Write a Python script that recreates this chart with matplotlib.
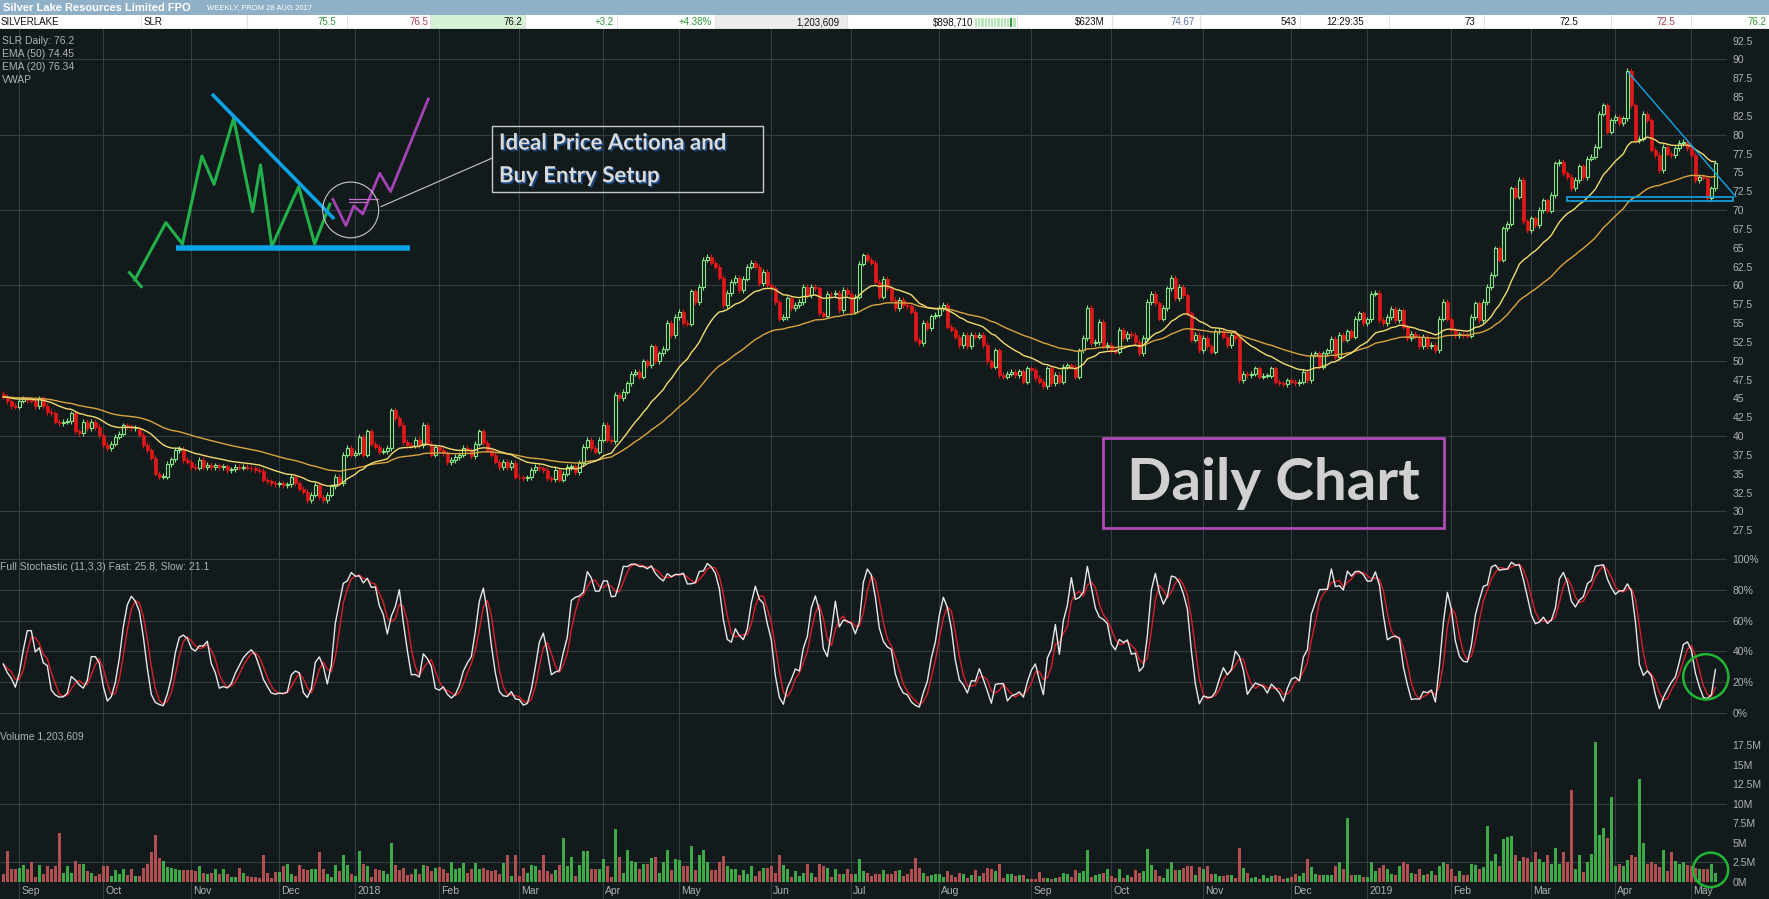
import numpy as np
import pandas as pd
import matplotlib
matplotlib.use('Agg')
import matplotlib.pyplot as plt
from matplotlib import font_manager
from matplotlib.patches import Rectangle, Ellipse
from matplotlib.transforms import blended_transform_factory
import matplotlib.patheffects as pe

# ---------------------------------------------------------------- data
FIRST_OPEN = 45.6

# daily closes, 28 Aug 2017 .. 9 May 2019
close = [
    45.2, 44.6, 44.0, 43.9, 44.7, 45.0, 44.8, 44.7, 44.0, 45.0,
    44.0, 43.2, 43.0, 41.9, 41.7, 41.9, 42.0, 43.0, 40.6, 40.4,
    41.9, 41.0, 41.9, 41.2, 40.1, 38.8, 38.4, 39.0, 39.9, 40.3,
    41.4, 41.3, 41.0, 41.0, 40.2, 38.8, 38.1, 37.1, 35.0, 34.6,
    34.6, 36.3, 36.9, 38.1, 38.3, 36.8, 36.6, 35.9, 35.8, 36.8,
    35.9, 36.2, 35.9, 36.1, 35.9, 36.0, 35.5, 35.6, 35.9, 35.8,
    35.9, 35.8, 35.7, 35.5, 35.4, 34.2, 34.0, 33.7, 33.6, 33.7,
    33.5, 33.6, 34.6, 33.7, 33.0, 32.6, 31.5, 32.2, 33.5, 31.9,
    31.5, 32.2, 33.3, 34.6, 33.7, 37.5, 38.4, 37.5, 37.8, 39.9,
    37.5, 40.6, 39.0, 38.6, 37.9, 38.0, 38.4, 43.4, 42.4, 41.5,
    39.2, 38.8, 38.7, 39.5, 38.8, 41.5, 39.0, 37.5, 38.5, 38.2,
    37.7, 36.5, 36.8, 37.2, 37.5, 38.4, 38.1, 37.3, 39.0, 40.6,
    39.1, 38.2, 37.5, 36.6, 35.9, 36.6, 35.9, 36.4, 34.6, 34.5,
    34.4, 34.5, 35.5, 35.9, 35.7, 35.5, 34.4, 34.3, 35.5, 34.2,
    35.0, 35.9, 36.0, 35.2, 36.4, 38.6, 39.5, 38.4, 37.9, 39.5,
    41.5, 39.5, 39.3, 45.5, 45.0, 45.9, 47.0, 48.3, 48.5, 47.9,
    49.9, 49.4, 51.9, 49.9, 51.0, 51.6, 55.0, 53.4, 55.8, 56.5,
    55.0, 54.9, 59.2, 57.8, 59.8, 63.4, 63.8, 63.0, 62.5, 61.0,
    57.4, 59.0, 60.5, 61.0, 59.4, 60.9, 62.5, 63.0, 62.5, 60.3,
    61.8, 60.0, 59.6, 57.8, 55.6, 55.8, 58.3, 57.0, 57.4, 57.8,
    59.8, 58.7, 59.8, 59.6, 56.3, 56.0, 58.9, 58.8, 59.0, 56.7,
    59.4, 58.9, 56.5, 58.5, 62.9, 64.0, 63.4, 63.0, 60.5, 58.5,
    60.9, 59.6, 58.1, 57.0, 58.1, 57.4, 57.2, 56.5, 52.8, 52.3,
    55.0, 54.3, 55.9, 56.1, 57.0, 57.4, 54.5, 54.1, 53.2, 52.1,
    53.4, 51.9, 53.4, 53.2, 53.4, 52.1, 49.9, 49.2, 51.4, 48.1,
    47.9, 48.3, 48.5, 48.1, 48.6, 47.2, 49.0, 48.8, 47.7, 47.2,
    46.6, 49.0, 47.0, 48.1, 47.2, 49.2, 49.4, 49.2, 47.9, 51.4,
    53.0, 57.0, 52.3, 52.5, 55.2, 51.9, 52.1, 51.4, 51.2, 54.1,
    53.0, 53.6, 53.4, 52.5, 51.0, 53.0, 57.8, 58.9, 57.6, 55.6,
    57.0, 59.6, 61.0, 58.3, 59.8, 58.7, 56.3, 52.8, 53.4, 51.4,
    53.0, 51.9, 51.2, 53.9, 54.0, 53.2, 52.1, 53.4, 53.0, 47.4,
    48.3, 48.1, 48.3, 49.0, 47.9, 48.0, 48.0, 49.0, 47.2, 47.0,
    46.9, 47.4, 47.2, 47.0, 47.2, 48.5, 47.4, 50.8, 51.0, 49.2,
    51.0, 51.4, 52.9, 50.5, 53.4, 52.8, 53.9, 53.2, 55.6, 56.3,
    55.0, 55.5, 58.9, 59.0, 55.4, 55.0, 55.8, 56.9, 55.4, 56.7,
    54.5, 53.0, 53.6, 53.2, 51.9, 53.2, 51.9, 52.1, 51.4, 55.6,
    57.8, 55.6, 54.1, 53.4, 53.5, 53.4, 53.3, 55.8, 57.6, 55.4,
    57.8, 59.8, 61.4, 64.9, 63.4, 67.6, 68.2, 72.9, 71.8, 74.0,
    68.5, 67.3, 68.9, 68.0, 70.0, 71.3, 69.9, 72.0, 76.2, 76.4,
    74.9, 74.4, 72.9, 74.0, 75.8, 74.4, 76.8, 77.1, 78.4, 82.8,
    83.9, 80.4, 81.9, 82.4, 81.5, 82.2, 88.5, 83.9, 79.3, 79.5,
    82.8, 81.9, 78.0, 77.3, 75.3, 78.4, 77.5, 77.3, 78.2, 78.9,
    79.1, 78.2, 77.3, 74.0, 74.4, 74.3, 71.6, 72.9, 76.2,
]

# daily volume, millions of shares
volume = [
    1.06, 3.9, 1.7, 1.7, 1.8, 2.2, 1.6, 2.6, 0.64, 2.2,
    1.06, 2.0, 1.6, 2.1, 6.2, 1.2, 2.0, 1.2, 2.7, 2.3,
    2.3, 1.4, 1.15, 0.8, 1.06, 2.0, 2.0, 0.8, 1.5, 1.06,
    1.6, 0.94, 1.7, 0.8, 0.8, 1.8, 2.3, 3.8, 6.0, 3.1,
    2.7, 1.9, 1.8, 1.7, 1.5, 1.5, 1.5, 1.5, 1.4, 2.1,
    1.15, 1.06, 1.2, 1.7, 1.06, 1.6, 1.06, 0.7, 0.7, 1.8,
    1.15, 0.8, 0.7, 0.64, 0.5, 3.4, 1.15, 0.5, 1.3, 1.3,
    2.1, 2.3, 1.06, 0.8, 2.2, 1.6, 1.5, 1.6, 1.6, 3.8,
    1.6, 1.06, 0.64, 2.2, 1.4, 3.4, 2.2, 1.06, 0.8, 4.0,
    2.3, 2.1, 0.7, 1.7, 1.5, 1.4, 1.06, 5.0, 2.2, 1.5,
    1.8, 0.94, 1.06, 1.7, 1.06, 2.2, 2.1, 1.4, 1.8, 1.9,
    1.7, 1.2, 2.6, 1.6, 1.8, 2.4, 1.2, 1.7, 2.4, 1.6,
    1.8, 1.5, 1.4, 1.5, 1.06, 2.4, 3.5, 0.8, 3.5, 0.8,
    1.8, 1.2, 2.2, 2.1, 1.5, 3.4, 1.4, 1.06, 1.5, 2.2,
    5.6, 2.0, 3.2, 0.8, 2.2, 4.0, 4.0, 1.7, 1.7, 1.7,
    3.0, 2.0, 0.64, 6.8, 3.2, 1.15, 4.1, 2.7, 2.6, 1.7,
    2.3, 2.3, 3.1, 3.2, 1.15, 2.6, 4.1, 1.5, 3.0, 2.85,
    2.1, 2.1, 4.55, 1.5, 3.5, 4.1, 2.5, 1.5, 1.5, 2.5,
    3.3, 2.1, 1.7, 1.7, 0.94, 1.5, 1.06, 2.0, 0.8, 1.4,
    1.8, 1.8, 2.0, 1.15, 3.4, 2.2, 1.7, 0.64, 1.4, 0.8,
    1.2, 2.3, 1.15, 0.64, 2.3, 2.1, 1.8, 0.64, 1.6, 1.06,
    1.06, 1.7, 1.06, 1.06, 3.0, 1.4, 1.2, 0.8, 1.06, 1.06,
    1.5, 1.06, 1.06, 1.4, 1.5, 0.8, 1.06, 1.7, 3.1, 1.8,
    1.15, 0.8, 0.94, 1.06, 1.06, 0.64, 1.4, 0.94, 0.64, 1.15,
    1.06, 0.5, 0.94, 1.5, 0.8, 1.2, 1.8, 1.6, 1.4, 2.3,
    0.5, 1.06, 1.06, 0.8, 0.94, 0.94, 0.43, 0.43, 0.43, 1.3,
    0.5, 0.5, 0.43, 0.5, 0.64, 1.15, 1.06, 0.64, 1.5, 1.2,
    1.4, 4.1, 0.64, 0.94, 1.06, 1.2, 1.7, 0.8, 0.5, 1.6,
    0.5, 0.94, 0.64, 1.5, 1.2, 1.4, 4.25, 2.2, 1.5, 0.8,
    0.5, 1.6, 2.6, 1.5, 1.5, 1.85, 2.0, 2.0, 0.85, 1.9,
    1.6, 2.0, 1.06, 1.06, 0.72, 0.72, 0.85, 0.94, 0.5, 4.4,
    1.8, 1.15, 0.5, 0.64, 0.38, 0.94, 0.5, 0.72, 0.94, 0.72,
    0.38, 0.5, 0.64, 1.06, 0.8, 1.15, 3.0, 1.9, 1.06, 0.85,
    0.94, 0.85, 0.94, 2.1, 2.5, 1.7, 8.2, 0.94, 0.94, 0.94,
    0.6, 0.6, 2.55, 1.36, 1.8, 2.2, 1.6, 1.0, 0.94, 2.0,
    2.5, 2.3, 1.15, 1.06, 1.6, 0.94, 1.06, 1.36, 0.85, 2.1,
    2.5, 2.3, 1.66, 0.72, 1.36, 0.94, 0.94, 2.3, 2.2, 1.6,
    1.9, 7.1, 2.7, 3.6, 2.0, 5.5, 5.8, 5.9, 3.4, 2.7,
    3.2, 3.1, 2.55, 3.8, 3.0, 2.55, 3.5, 2.3, 4.4, 2.3,
    3.8, 2.55, 11.7, 1.7, 3.4, 1.3, 2.55, 3.6, 17.9, 6.0,
    6.9, 5.6, 10.9, 2.1, 2.3, 2.0, 2.85, 3.4, 3.15, 13.2,
    5.0, 2.3, 2.5, 2.3, 1.9, 4.1, 1.45, 3.8, 2.7, 2.3,
    2.6, 2.2, 2.0, 1.8, 1.66, 1.7, 1.6, 2.3, 1.2,
]

ASX_HOLIDAYS = ['2017-12-25', '2017-12-26', '2018-01-01', '2018-01-26', '2018-03-30',
                '2018-04-02', '2018-04-25', '2018-06-11', '2018-12-25', '2018-12-26',
                '2019-01-01', '2019-01-28', '2019-04-19', '2019-04-22', '2019-04-25']

price_ticks = [27.5, 30, 32.5, 35, 37.5, 40, 42.5, 45, 47.5, 50, 52.5, 55, 57.5, 60,
               62.5, 65, 67.5, 70, 72.5, 75, 77.5, 80, 82.5, 85, 87.5, 90, 92.5]
stoch_ticks = [0, 20, 40, 60, 80, 100]
vol_ticks = [0, 2.5, 5, 7.5, 10, 12.5, 15, 17.5]
vol_tick_labels = ['0M', '2.5M', '5M', '7.5M', '10M', '12.5M', '15M', '17.5M']

title_main = 'Silver Lake Resources Limited FPO'
title_sub = 'WEEKLY, FROM 28 AUG 2017'
# quote strip: (x in px, text, colour, alignment)
quote_cells = [
    (1, 'SILVERLAKE', 'k', 'left'), (144, 'SLR', 'k', 'left'),
    (336, '75.5', 'g', 'right'), (428, '76.5', 'r', 'right'),
    (522, '76.2', 'k', 'right'), (614, '+3.2', 'g', 'right'),
    (712, '+4.38%', 'g', 'right'), (839, '1,203,609', 'k', 'right'),
    (973, '$898,710', 'k', 'right'), (1105, '$623M', 'k', 'right'),
    (1195, '74.67', 'b', 'right'), (1297, '543', 'k', 'right'),
    (1364, '12:29:35', 'k', 'right'), (1475, '73', 'k', 'right'),
    (1578, '72.5', 'k', 'right'), (1675, '72.5', 'r', 'right'),
    (1766, '76.2', 'g', 'right'),
]
legend_lines = ['SLR Daily: 76.2', 'EMA (50) 74.45', 'EMA (20) 76.34', 'VWAP']
stoch_label = 'Full Stochastic (11,3,3) Fast: 25.8, Slow: 21.1'
vol_label = 'Volume 1,203,609'

# ---------------------------------------------------------------- style
W, H = 1769, 899
PLOT_RIGHT = 1727
BG = '#121a1c'
GRID = '#343e41'
TXT = '#aeb2b3'
UP = '#86e586'
DOWN = '#e01818'
VUP = '#3daa47'
VDOWN = '#b24f50'
CYAN = '#10a6e6'
PURPLE = '#a443b4'
WICK = 0.35

installed = {f.name for f in font_manager.fontManager.ttflist}
NARROW = next(f for f in ['Liberation Sans Narrow', 'Liberation Sans', 'DejaVu Sans'] if f in installed)
BOLDFONT = 'Lato' if 'Lato' in installed else 'DejaVu Sans'
plt.rcParams['font.family'] = [NARROW, 'DejaVu Sans']

c = np.array(close)
o = np.r_[FIRST_OPEN, c[:-1]]
v = np.array(volume)
x = np.arange(len(c))
up = c >= o
body_lo = np.minimum(o, c)
body_hi = np.maximum(o, c)
dates = pd.bdate_range('2017-08-28', periods=len(c), freq='C', holidays=ASX_HOLIDAYS)

cs = pd.Series(c)
ema20 = cs.ewm(span=20, adjust=False).mean()
ema50 = cs.ewm(span=50, adjust=False).mean()
# full stochastic (11,3,3) on the drawn candle range
lo = pd.Series(body_lo - WICK).rolling(11, min_periods=1).min()
hi = pd.Series(body_hi + WICK).rolling(11, min_periods=1).max()
raw = 100 * (cs - lo) / (hi - lo)
slow_k = raw.rolling(3, min_periods=1).mean()
slow_d = slow_k.rolling(3, min_periods=1).mean()

month_idx = [i for i in range(1, len(dates)) if dates[i].month != dates[i - 1].month]
month_lbl = [str(dates[i].year) if dates[i].month == 1 else dates[i].strftime('%b') for i in month_idx]

fig = plt.figure(figsize=(W / 100, H / 100), dpi=100, facecolor=BG)


def panel(top, bottom):
    ax = fig.add_axes([0, 1 - bottom / H, PLOT_RIGHT / W, (bottom - top) / H])
    ax.set_facecolor(BG)
    for s in ax.spines.values():
        s.set_visible(False)
    ax.set_xlim(-0.825, 430.9)
    ax.set_xticks([])
    ax.yaxis.tick_right()
    ax.tick_params(axis='y', length=0, pad=4, labelsize=7.5, labelcolor=TXT)
    for i in month_idx:
        ax.axvline(i, color=GRID, lw=0.8, zorder=0)
    return ax


# ---------------------------------------------------------------- header strip
hdr = fig.add_axes([0, 1 - 29.3 / H, 1, 29.3 / H])
hdr.set_xlim(0, W)
hdr.set_ylim(29.3, 0)
hdr.axis('off')
hdr.add_patch(Rectangle((0, 0), W, 15, color='#8fb0c6', lw=0))
hdr.add_patch(Rectangle((0, 15), W, 14.3, color='white', lw=0))
hdr.add_patch(Rectangle((430, 15), 95, 14.3, color='#d6f2d6', lw=0))
hdr.add_patch(Rectangle((715, 15), 132, 14.3, color='#ececec', lw=0))
for sx in [141, 247, 347, 430, 525, 617, 715, 847, 1017, 1112, 1200, 1300, 1389, 1484, 1611, 1691]:
    hdr.plot([sx, sx], [15, 29.3], color='#e2e2e2', lw=0.8)
for k in range(13):
    hdr.add_patch(Rectangle((975 + 3.2 * k, 17.5), 2.2, 10,
                            color='#2f9e3f' if k == 11 else '#b9e6b9', lw=0))
hdr.plot([0, W], [28.8, 28.8], color='#9aa0a2', lw=1)
hdr.text(3, 7.6, title_main, color='white', fontsize=8, fontweight='bold', va='center')
hdr.text(207, 8.0, title_sub, color='white', fontsize=5.5, va='center')
qcol = {'k': '#111111', 'g': '#2f9a36', 'r': '#b23a55', 'b': '#5a7296'}
for qx, qt, qc, qa in quote_cells:
    hdr.text(qx, 22.4, qt, color=qcol[qc], fontsize=7, ha=qa, va='center')

# ---------------------------------------------------------------- price panel
ax_p = panel(29.3, 556)
ax_p.set_ylim(24.07, 94.0)
ax_p.set_yticks(price_ticks)
ax_p.set_yticklabels(['%g' % t for t in price_ticks])
for g in range(30, 91, 10):
    ax_p.axhline(g, color=GRID, lw=0.8, zorder=0)

height = np.maximum(body_hi - body_lo, 0.08)
ccol = np.where(up, UP, DOWN)
ax_p.vlines(x, body_lo - WICK, body_lo + height + WICK, colors=ccol, lw=0.8, zorder=2)
ax_p.bar(x[~up], height[~up], bottom=body_lo[~up], width=0.72, color=DOWN,
         edgecolor=DOWN, lw=0.5, zorder=3)
ax_p.bar(x[up], height[up], bottom=body_lo[up], width=0.72, facecolor=BG,
         edgecolor=UP, lw=0.8, zorder=3)
ax_p.plot(x, ema50, color='#d9a441', lw=1, zorder=4)
ax_p.plot(x, ema20, color='#f0dc70', lw=1, zorder=4)

# descending triangle drawn on the latest swing
ax_p.plot([406.3, 433.1], [88.24, 71.78], color=CYAN, lw=1, zorder=5, clip_on=False)
ax_p.add_patch(Rectangle((390.9, 71.16), 41.4, 0.53, fill=False, edgecolor=CYAN,
                         lw=1.2, zorder=5, clip_on=False))

# idealised pattern sketch
ax_p.plot([31.55, 34.47], [61.70, 59.84], color='#22b04a', lw=2.2, zorder=6)
ax_p.plot([32.85, 40.65, 44.77, 49.65, 52.69, 57.57, 62.34, 64.29, 67.11, 73.83, 77.84, 81.63],
          [60.72, 68.33, 65.50, 77.18, 73.42, 82.18, 69.79, 75.99, 65.15, 73.11, 65.50, 70.77],
          color='#22b04a', lw=2.2, zorder=6)
ax_p.plot([52.15, 82.72], [85.41, 68.82], color='#0aa3e6', lw=2.6, zorder=7,
          solid_capstyle='butt')
ax_p.plot([43.15, 101.69], [65.02, 65.02], color='#0aa3e6', lw=4.0, zorder=7,
          solid_capstyle='butt')
ax_p.plot([82.39, 85.65, 87.6, 89.87, 94.1, 96.81, 106.24],
          [71.43, 67.94, 70.55, 69.48, 74.88, 72.45, 84.75], color=PURPLE, lw=2, zorder=7)
ax_p.plot([86.5, 93.6], [71.43, 71.43], color='#c070c8', lw=0.9, zorder=7)
ax_p.plot([86.5, 90.9], [71.1, 71.1], color='#c070c8', lw=0.9, zorder=7)
ax_p.add_patch(Ellipse((86.84, 70.02), 14, 7.4, fill=False, edgecolor='#c8c8c8', lw=0.8, zorder=8))
ax_p.plot([94.43, 122.07], [70.46, 76.87], color='#c8c8c8', lw=0.8, zorder=8)
ax_p.add_patch(Rectangle((122.07, 72.36), 67.76, 8.85, fill=False, edgecolor='#c8c8c8',
                         lw=1, zorder=8))
shadow = [pe.withSimplePatchShadow(offset=(1.2, -1.2), shadow_rgbFace='#1d4f8f', alpha=0.9)]
for ty, tt in [(78.9, 'Ideal Price Actiona and'), (74.55, 'Buy Entry Setup')]:
    ax_p.text(123.9, ty, tt, color='#dadada', fontsize=16, fontweight='bold',
              family=BOLDFONT, va='center', zorder=9, path_effects=shadow)

ax_p.add_patch(Rectangle((274.9, 27.8), 85.3, 11.98, fill=False, edgecolor='#b04ab8',
                         lw=2, zorder=8))
ax_p.text(317.6, 33.7, 'Daily Chart', color='#d0d0d0', fontsize=42, fontweight='bold',
          family=BOLDFONT, ha='center', va='center', zorder=9)

for k, line in enumerate(legend_lines):
    fig.text(2 / W, 1 - (40.5 + 13.2 * k) / H, line, color=TXT, fontsize=7.5, va='center')

# ---------------------------------------------------------------- stochastic
ax_s = panel(556, 722)
ax_s.set_ylim(-5.84, 101.95)
ax_s.set_yticks(stoch_ticks)
ax_s.set_yticklabels(['%d%%' % t for t in stoch_ticks])
for g in stoch_ticks:
    ax_s.axhline(g, color=GRID, lw=0.8, zorder=0)
ax_s.plot(x, slow_d, color='#d9202a', lw=1, zorder=3)
ax_s.plot(x, slow_k, color='#e8e8e8', lw=1, zorder=4)
ax_s.add_patch(Ellipse((425.6, 23.5), 11.3, 29.4, fill=False, edgecolor='#21b535',
                       lw=1.8, zorder=6, clip_on=False))
fig.text(0, 1 - 566.7 / H, stoch_label, color=TXT, fontsize=7.5, va='center')

# ---------------------------------------------------------------- volume
ax_v = panel(722, 899)
ax_v.set_ylim(-2.17, 20.43)
ax_v.set_yticks(vol_ticks)
ax_v.set_yticklabels(vol_tick_labels)
for g in [2.5, 10]:
    ax_v.axhline(g, color=GRID, lw=0.8, zorder=0)
ax_v.bar(x, v, width=0.72, color=np.where(up, VUP, VDOWN), lw=0, zorder=3)
ax_v.add_patch(Ellipse((426.8, 1.55), 8.8, 4.4, fill=False, edgecolor='#21b535',
                       lw=1.8, zorder=6, clip_on=False))
fig.text(0, 1 - 736.7 / H, vol_label, color=TXT, fontsize=7.5, va='center')

tr = blended_transform_factory(ax_v.transData, ax_v.transAxes)
for i, lbl in zip(month_idx, month_lbl):
    ax_v.text(i + 0.45, 0.045, lbl, transform=tr, color=TXT, fontsize=7.5,
              va='center', ha='left')

fig.savefig('out.png', dpi=100, facecolor=BG)
